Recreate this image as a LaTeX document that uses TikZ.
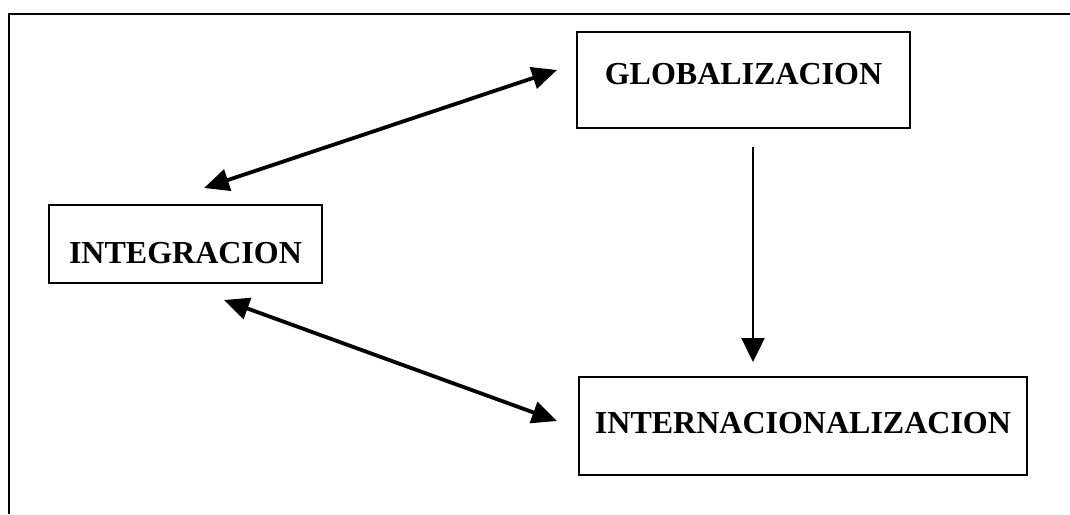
\documentclass[tikz,border=0pt]{standalone}
\usepackage{fontspec}
\setmainfont{Liberation Serif}
\usepackage{tikz}
\usetikzlibrary{shapes,arrows.meta}

\tikzset{
	caja/.style={draw, line width=0.9pt, inner sep=0pt, font=\fontsize{16}{19}\selectfont\bfseries},
	doble/.style={{Triangle[length=12.5pt,width=11pt]}-{Triangle[length=12.5pt,width=11pt]}, line width=1.9pt},
	simple/.style={-{Triangle[length=12pt,width=11.5pt]}, line width=1.2pt}
}

\begin{document}
\begin{tikzpicture}[x=0.5pt,y=-0.5pt]
	\useasboundingbox (0,0) rectangle (1070,514);
	% marco
	\draw[line width=1pt] (9,514) -- (9,14) -- (1070,14);
	% cajas
	\node[caja, minimum width=166.5pt, minimum height=48pt, text height=6pt, text depth=1.4pt] (glob) at (743.5,80) {GLOBALIZACION};
	\node[caja, minimum width=136.5pt, minimum height=39pt, text height=19pt, text depth=0pt] (integ) at (185.5,244) {INTEGRACION};
	\node[caja, minimum width=224pt, minimum height=49pt, text height=8pt, text depth=0.4pt] (intern) at (803,426) {INTERNACIONALIZACION};
	% flechas
	\coordinate (ig) at (204,188);
	\coordinate (gi) at (557,70);
	\draw[doble] (ig) -- (gi);
	\coordinate (ii) at (224,300);
	\coordinate (in) at (557,421);
	\draw[doble] (ii) -- (in);
	\coordinate (gb) at (753,147);
	\coordinate (nt) at (753,362);
	\draw[simple] (gb) -- (nt);
\end{tikzpicture}
\end{document}
